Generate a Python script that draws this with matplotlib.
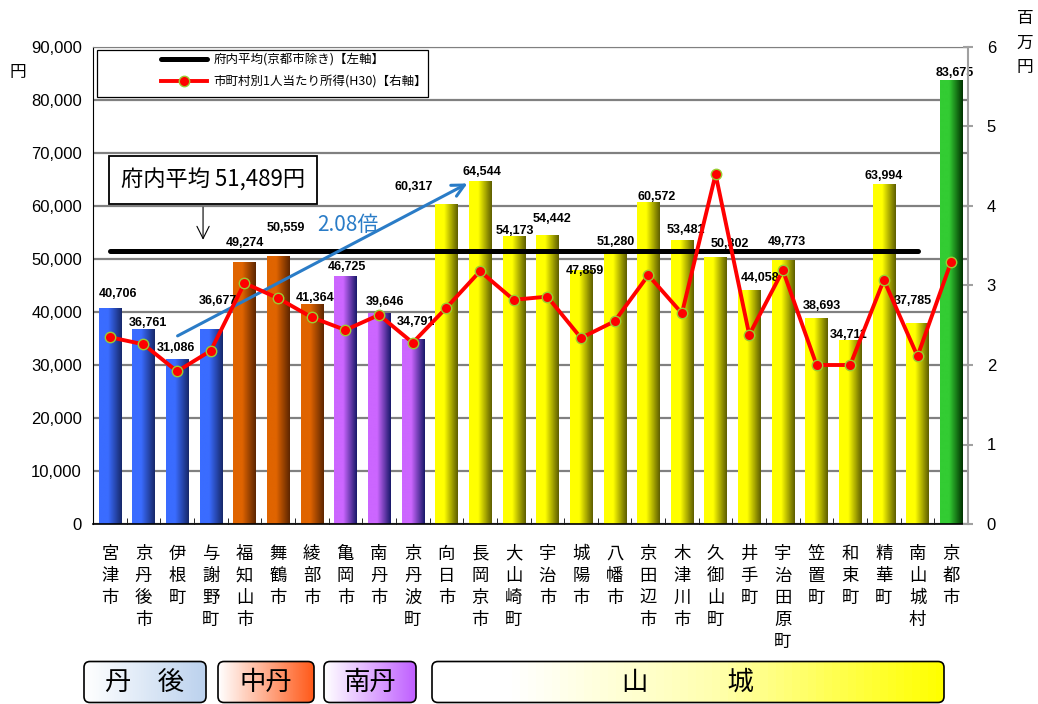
import numpy as np
import matplotlib.pyplot as plt
from matplotlib.colors import LinearSegmentedColormap
from matplotlib.patches import FancyBboxPatch, Rectangle

plt.rcParams['font.family'] = ['Noto Sans CJK JP', 'DejaVu Sans']

# data
names = ['宮津市', '京丹後市', '伊根町', '与謝野町', '福知山市', '舞鶴市', '綾部市',
         '亀岡市', '南丹市', '京丹波町', '向日市', '長岡京市', '大山崎町', '宇治市',
         '城陽市', '八幡市', '京田辺市', '木津川市', '久御山町', '井手町', '宇治田原町',
         '笠置町', '和束町', '精華町', '南山城村', '京都市']
groups = ['丹後'] * 4 + ['中丹'] * 3 + ['南丹'] * 3 + ['山城'] * 15 + ['京都市']
taxable = [40706, 36761, 31086, 36677, 49274, 50559, 41364, 46725, 39646, 34791,
           60317, 64544, 54173, 54442, 47859, 51280, 60572, 53481, 50302, 44058,
           49773, 38693, 34711, 63994, 37785, 83675]
income = [2.35, 2.26, 1.92, 2.18, 3.03, 2.84, 2.60, 2.44, 2.63, 2.28,
          2.72, 3.18, 2.82, 2.86, 2.34, 2.55, 3.13, 2.65, 4.40, 2.38,
          3.19, 2.00, 2.00, 3.07, 2.11, 3.30]
pref_avg = 51489
ratio_text = '2.08倍'
region_names = ['丹　後', '中丹', '南丹', '山　　　城']

# label offsets (pixels) for the value labels
lab_dx = [8, 4, -1, 7, 0, 8, 3, 2, 6, 3, -33, 2, 1, 5, 4, 1, 8, 4, 14, 11, 4, 5, -2, 0, -5, 4]
lab_dy = [14, 6, 11, 29, 20, 28, 7, 9, 12, 18, 17, 10, 6, 16, -1, 10, 6, 11, 13, 12, 18, 13, 5, 9, 23, 8]

bar_cols = {
    '丹後': ('#3a6cff', '#17286a'),
    '中丹': ('#e06400', '#5e2600'),
    '南丹': ('#cc66ff', '#18186a'),
    '山城': ('#ffff00', '#5e5e00'),
    '京都市': ('#33cc33', '#003300'),
}

fig = plt.figure(figsize=(10.38, 7.04), dpi=100)
ax = fig.add_axes([93 / 1038, 1 - 524 / 704, 875 / 1038, 477 / 704])
x = np.arange(len(names))

bars = ax.bar(x, taxable, width=0.66, color='none', zorder=2)
grad = np.linspace(0, 1, 64).reshape(1, -1)
for b, g in zip(bars, groups):
    light, dark = bar_cols[g]
    cmap = LinearSegmentedColormap.from_list('g', [(0, light), (0.4, light), (1, dark)])
    ax.imshow(grad, extent=[b.get_x(), b.get_x() + b.get_width(), 0, b.get_height()],
              aspect='auto', cmap=cmap, zorder=2, interpolation='bilinear')

for i, v in enumerate(taxable):
    ax.annotate(f'{v:,}', (x[i], v), xytext=(lab_dx[i], lab_dy[i]), textcoords='offset pixels',
                ha='center', va='center', fontsize=9, fontweight='bold',
                family='Liberation Sans', zorder=5)

avg_line, = ax.plot([x[0], x[24]], [pref_avg, pref_avg], color='black', lw=3.6,
                    solid_capstyle='round', zorder=3)

ax.set_xlim(-0.5, len(names) - 0.5)
ax.set_ylim(0, 90000)
ax.set_yticks(range(0, 90001, 10000))
ax.set_yticklabels([f'{t:,}' for t in range(0, 90001, 10000)], family='Liberation Sans', fontsize=12)
ax.tick_params(axis='y', length=0, pad=8)
ax.set_xticks(x)
ax.set_xticklabels(['\n'.join(n) for n in names], fontsize=12.5, linespacing=1.28, va='top')
ax.tick_params(axis='x', length=0, pad=15)
ax.set_xticks(np.arange(-0.5, len(names)), minor=True)
ax.tick_params(axis='x', which='minor', direction='in', length=4, color='black')
ax.grid(axis='y', color='#808080', lw=1.6, zorder=1)
ax.set_axisbelow(True)
ax.spines['left'].set_color('black')
ax.spines['bottom'].set_color('black')
ax.spines['bottom'].set_linewidth(1.2)
ax.spines['top'].set_color('#808080')
ax.spines['right'].set_visible(False)

ax2 = ax.twinx()
inc_line, = ax2.plot(x, income, color='#ff0000', lw=2.8, marker='o', markersize=7.5,
                     markerfacecolor='#ff0000', markeredgecolor='#9acd32', markeredgewidth=1, zorder=4)
ax2.set_ylim(0, 6)
ax2.set_yticks(range(0, 7))
ax2.set_yticklabels([str(t) for t in range(0, 7)], family='Liberation Sans', fontsize=12)
ax2.tick_params(axis='y', direction='inout', length=7, color='#a0a0a0', width=1.5, pad=10)
for s in ['left', 'top', 'bottom']:
    ax2.spines[s].set_visible(False)
ax2.spines['right'].set_color('#a0a0a0')
ax2.spines['right'].set_linewidth(1.5)

# annotations
ax2.text(3.07, 4.33, '府内平均 51,489円', fontsize=16, ha='center', va='center', zorder=6,
         bbox=dict(boxstyle='square,pad=0.55', fc='white', ec='black', lw=1.3))
ax2.annotate('', xy=(2.77, 3.54), xytext=(2.77, 4.02),
             arrowprops=dict(arrowstyle='->', color='black', lw=0.8, mutation_scale=22))
ax2.annotate('', xy=(10.7, 4.3), xytext=(1.94, 2.35),
             arrowprops=dict(arrowstyle='->', color='#2a7cc7', lw=2.2, mutation_scale=22))
ax2.text(7.08, 3.76, ratio_text, color='#2a7cc7', fontsize=15, ha='center', va='center')

# legend: frame drawn separately so the entries sit to the right like the original
ax2.add_patch(Rectangle((4 / 875, 427 / 477), 331 / 875, 47 / 477, transform=ax2.transAxes,
                        fc='white', ec='black', lw=0.9, zorder=6))
leg = ax2.legend([avg_line, inc_line], ['府内平均(京都市除き)【左軸】', '市町村別1人当たり所得(H30)【右軸】'],
                 loc='upper left', bbox_to_anchor=(68 / 875, 1 - 6 / 477), fontsize=9,
                 frameon=False, handlelength=3.7, handletextpad=0.5, borderpad=0,
                 labelspacing=0.75, borderaxespad=0)
leg.set_zorder(7)

fig.text(18 / 1038, 1 - 73 / 704, '円', fontsize=12, ha='center', va='center')
fig.text(1025 / 1038, 1 - 43 / 704, '百\n万\n円', fontsize=12, ha='center', va='center', linespacing=1.6)

# region boxes
bx = fig.add_axes([0, 0, 1, 56 / 704])
bx.axis('off')
boxes = [(84, 206, '#bcd2ee'), (218, 314, '#ff5a1a'), (324, 416, '#c060ff'), (432, 944, '#ffff00')]
for (x0, x1, c), lab in zip(boxes, region_names):
    if lab.startswith('山'):
        stops = [(0, 'white'), (0.15, 'white'), (0.55, '#ffffb0'), (1, c)]
    else:
        stops = [(0, 'white'), (1, c)]
    cmap = LinearSegmentedColormap.from_list('r', stops)
    patch = FancyBboxPatch((x0, 1.5), x1 - x0, 41, boxstyle='round,pad=0,rounding_size=6',
                           fc='none', ec='black', lw=1.2, zorder=3)
    bx.add_patch(patch)
    im = bx.imshow(grad, extent=[x0, x1, 1.5, 42.5], aspect='auto', cmap=cmap, zorder=2)
    im.set_clip_path(patch)
    bx.text((x0 + x1) / 2, 22, lab, fontsize=19, ha='center', va='center', zorder=4)
bx.set_xlim(0, 1038)
bx.set_ylim(0, 56)

fig.savefig('out.png', dpi=100)
